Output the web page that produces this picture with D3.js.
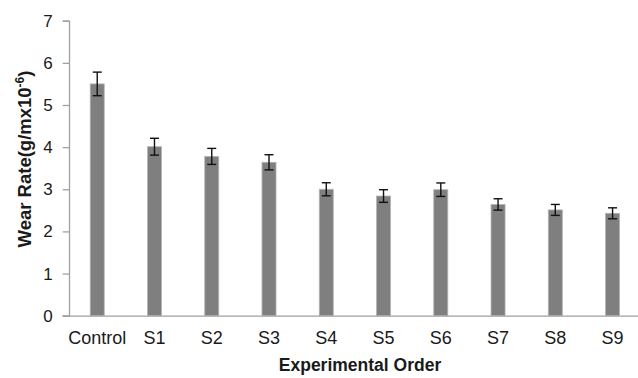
<!DOCTYPE html>
<html>
<head>
<meta charset="utf-8">
<script src="https://cdn.jsdelivr.net/npm/d3@7/dist/d3.min.js"></script>
<style>
  html, body { margin: 0; padding: 0; background: #fff; }
  svg { display: block; }
</style>
</head>
<body>
<svg id="chart" width="638" height="378"></svg>
<script>
const categories = ["Control", "S1", "S2", "S3", "S4", "S5", "S6", "S7", "S8", "S9"];
const wearRate = [5.50, 4.01, 3.78, 3.64, 3.00, 2.84, 2.99, 2.64, 2.51, 2.43];
const wearErr = [0.28, 0.20, 0.19, 0.18, 0.155, 0.15, 0.16, 0.135, 0.13, 0.13];
const yTicks = [0, 1, 2, 3, 4, 5, 6, 7];
const xTitle = "Experimental Order";
const yTitle = "Wear Rate(g/mx10";

const svg = d3.select("#chart");
const font = "'Liberation Sans', Arial, sans-serif";

const x = d3.scaleBand().domain(categories).range([68.6, 641.2]).padding(0);
const y = d3.scaleLinear().domain([0, 7]).range([315.7, 20.7]);
const axisColor = "#a0a0a0";

// Y axis
const yAxis = svg.append("g")
  .attr("transform", "translate(69,0)")
  .call(d3.axisLeft(y).tickValues(yTicks).tickFormat(d3.format("d")).tickSizeOuter(0).tickSize(6.3).tickPadding(10));
yAxis.select(".domain").attr("stroke", axisColor).attr("stroke-width", 1.3);
yAxis.selectAll(".tick line").attr("stroke", axisColor).attr("stroke-width", 1.3);
yAxis.selectAll(".tick text")
  .attr("font-family", font).attr("font-size", 17).attr("fill", "#1a1a1a");

// Bars
const bw = x.bandwidth() * 0.245;
svg.append("g").selectAll("rect")
  .data(categories)
  .join("rect")
  .attr("x", (d) => x(d) + x.bandwidth() / 2 - bw / 2)
  .attr("y", (d, i) => y(wearRate[i]))
  .attr("width", bw)
  .attr("height", (d, i) => y(0) - y(wearRate[i]))
  .attr("fill", "#7f7f7f")
  .attr("stroke", "#b5b5b5")
  .attr("stroke-width", 0.8);

// X axis line (no ticks)
const xAxis = svg.append("g")
  .attr("transform", `translate(0,${y(0)})`)
  .call(d3.axisBottom(x).tickSize(0).tickPadding(16).tickSizeOuter(0));
xAxis.select(".domain").attr("stroke", axisColor).attr("stroke-width", 1.3)
  .attr("d", `M62.7,0.5H641`);
xAxis.selectAll(".tick text")
  .attr("font-family", font).attr("font-size", 18).attr("fill", "#1a1a1a");

// Error bars
const eb = svg.append("g").attr("stroke", "#111").attr("stroke-width", 1.4).attr("fill", "none");
categories.forEach((c, i) => {
  const cx = x(c) + x.bandwidth() / 2;
  const top = y(wearRate[i] + wearErr[i]);
  const bot = y(wearRate[i] - wearErr[i]);
  eb.append("line").attr("x1", cx).attr("x2", cx).attr("y1", top).attr("y2", bot);
  eb.append("line").attr("x1", cx - 4.5).attr("x2", cx + 4.5).attr("y1", top).attr("y2", top);
  eb.append("line").attr("x1", cx - 4.5).attr("x2", cx + 4.5).attr("y1", bot).attr("y2", bot);
});

// X title
svg.append("text")
  .attr("x", 360).attr("y", 371)
  .attr("text-anchor", "middle")
  .attr("font-family", font).attr("font-size", 17.5).attr("font-weight", "bold")
  .attr("fill", "#1a1a1a")
  .text(xTitle);

// Y title
const yt = svg.append("text")
  .attr("transform", "translate(31,159) rotate(-90)")
  .attr("text-anchor", "middle")
  .attr("font-family", font).attr("font-size", 18.5).attr("font-weight", "bold")
  .attr("fill", "#1a1a1a");
yt.append("tspan").text(yTitle);
yt.append("tspan").attr("dy", -7).attr("font-size", 12).text("-6");
yt.append("tspan").attr("dy", 7).text(")");
</script>
</body>
</html>
